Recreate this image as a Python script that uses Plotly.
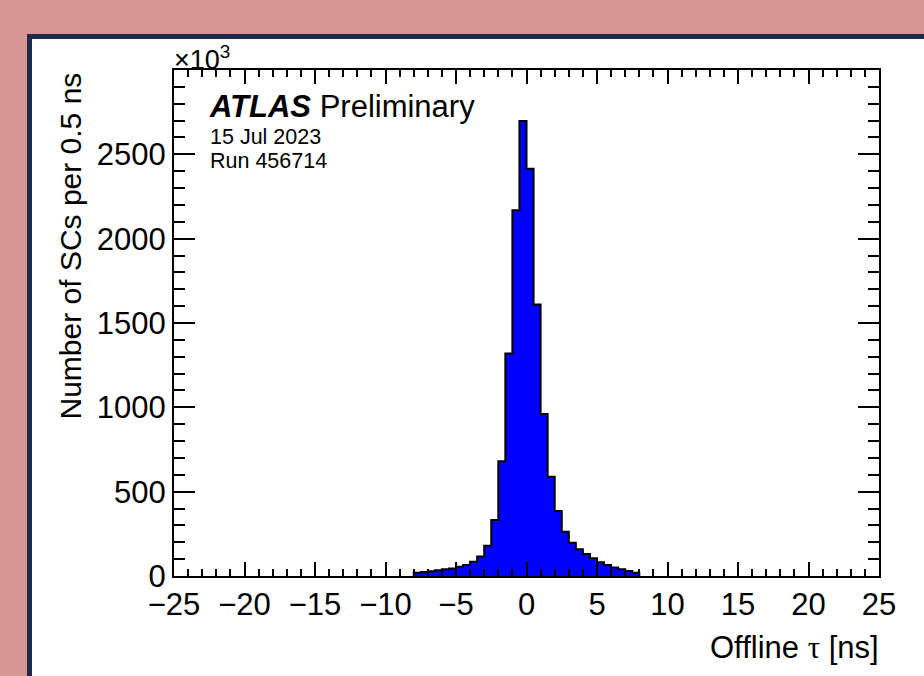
import plotly.graph_objects as go

# ---- data (thousands of SCs per 0.5 ns bin) ----
bin_edges = [-8.0, -7.5, -7.0, -6.5, -6.0, -5.5, -5.0, -4.5, -4.0, -3.5, -3.0, -2.5,
             -2.0, -1.5, -1.0, -0.5, 0.0, 0.5, 1.0, 1.5, 2.0, 2.5, 3.0, 3.5,
             4.0, 4.5, 5.0, 5.5, 6.0, 6.5, 7.0, 7.5, 8.0]
counts = [20, 24, 28, 34, 40, 45, 55, 65, 85, 115, 180, 332,
          681, 1319, 2168, 2697, 2415, 1610, 960, 588, 385, 262, 197, 158,
          130, 105, 81, 65, 51, 40, 30, 20]
x_ticks = [-25, -20, -15, -10, -5, 0, 5, 10, 15, 20, 25]
y_ticks = [0, 500, 1000, 1500, 2000, 2500]

FONT = "Liberation Sans, Arial, Helvetica, sans-serif"

# step outline (ROOT-like histogram)
xs = [bin_edges[0]] + bin_edges[:-1] + [bin_edges[-1]]
ys = [0] + counts + [0]

fig = go.Figure()
fig.add_trace(go.Scatter(
    x=xs, y=ys, mode="lines", line=dict(shape="hv", color="black", width=2),
    fill="tozeroy", fillcolor="#0000ff", hoverinfo="skip", showlegend=False))

L, R, T, B = 174, 45, 70, 100
W, H = 924, 676
pw, ph = W - L - R, H - T - B

def px(x):
    return (x - L) / pw

def py(y):
    return (H - B - y) / ph

fig.update_layout(
    width=W, height=H,
    margin=dict(l=L, r=R, t=T, b=B, pad=0),
    paper_bgcolor="#d99494",
    plot_bgcolor="white",
    font=dict(family=FONT, color="black", size=31),
    xaxis=dict(range=[-25, 25], tickvals=x_ticks, ticks="inside", ticklen=14, tickwidth=1.5,
               tickcolor="black", showline=True, linecolor="black", linewidth=2, mirror="allticks",
               showgrid=False, zeroline=False, tickfont=dict(size=31, family=FONT),
               minor=dict(dtick=1, ticks="inside", ticklen=7, tickwidth=1.5, tickcolor="black", showgrid=False)),
    yaxis=dict(range=[0, 3000], tickvals=y_ticks, ticks="inside", ticklen=21, tickwidth=1.5,
               tickcolor="black", showline=True, linecolor="black", linewidth=2, mirror="allticks",
               showgrid=False, zeroline=False, tickfont=dict(size=31, family=FONT),
               minor=dict(dtick=100, ticks="inside", ticklen=11, tickwidth=1.5, tickcolor="black", showgrid=False)),
    shapes=[dict(type="rect", xref="paper", yref="paper", layer="below",
                 x0=px(29.5), x1=px(960), y0=py(720), y1=py(36.5),
                 fillcolor="white", line=dict(color="#1b2b49", width=5))],
    annotations=[
        dict(text="Number of SCs per 0.5 ns", xref="paper", yref="paper", x=px(70), y=py(71),
             xanchor="center", yanchor="top", textangle=-90, showarrow=False,
             font=dict(size=30, family=FONT)),
        dict(text="Offline <span style='font-family:Liberation Serif, Times New Roman, serif'>τ</span> [ns]",
             xref="paper", yref="paper", x=px(881), y=py(647), xanchor="right", yanchor="middle",
             showarrow=False, font=dict(size=31, family=FONT)),
        dict(text="×10<sup>3</sup>", xref="paper", yref="paper", x=px(172), y=py(58),
             xanchor="left", yanchor="middle", showarrow=False, font=dict(size=27, family=FONT)),
        dict(text="<b><i>ATLAS</i></b> Preliminary", xref="paper", yref="paper", x=px(207), y=py(106),
             xanchor="left", yanchor="middle", showarrow=False, font=dict(size=31, family=FONT)),
        dict(text="15 Jul 2023", xref="paper", yref="paper", x=px(208), y=py(137),
             xanchor="left", yanchor="middle", showarrow=False, font=dict(size=21.5, family=FONT)),
        dict(text="Run 456714", xref="paper", yref="paper", x=px(208), y=py(161),
             xanchor="left", yanchor="middle", showarrow=False, font=dict(size=21.5, family=FONT)),
    ],
)

fig.write_html("out.html")
